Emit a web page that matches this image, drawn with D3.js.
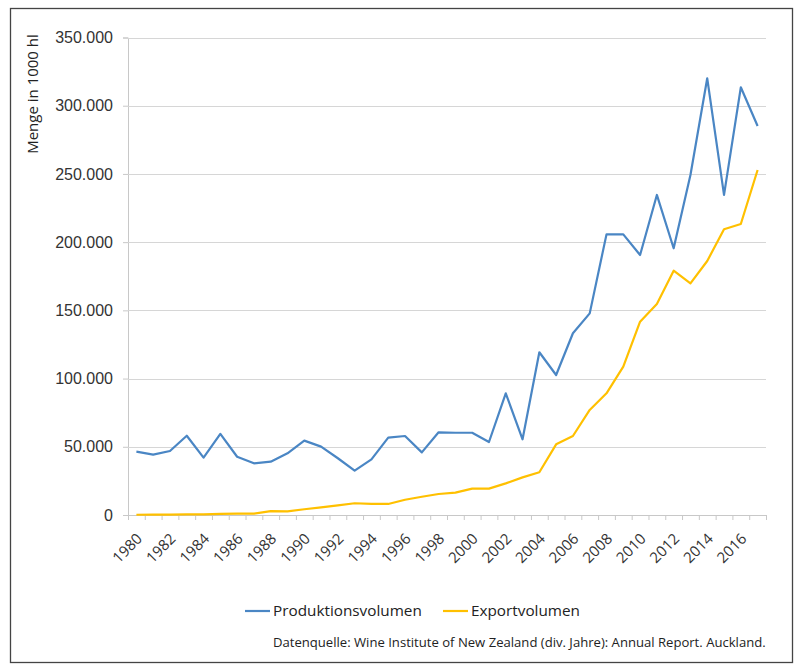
<!DOCTYPE html>
<html>
<head>
<meta charset="utf-8">
<script src="https://cdn.jsdelivr.net/npm/d3@7"></script>
<style>
  html, body { margin: 0; padding: 0; background: #fff; }
  svg { display: block; font-family: "Open Sans", sans-serif; }
</style>
</head>
<body>
<svg id="chart" width="801" height="666"></svg>
<script>
// Wine New Zealand: production vs export volume, 1980–2017 (values in 1000 hl as printed)
const years = d3.range(1980, 2018);
const produktion = [
  46400, 44200, 46900, 58100, 42000, 59400, 42700, 37900, 39100, 45200,
  54500, 50100, 41600, 32500, 40800, 56700, 57900, 45900, 60600, 60300,
  60300, 53500, 89200, 55500, 119300, 102600, 133200, 147800, 205700, 205700,
  190600, 234600, 195500, 249200, 320100, 234600, 313500, 285100
];
const export_ = [
  200, 300, 300, 400, 500, 800, 1000, 1000, 2900, 2700,
  4200, 5600, 7100, 8600, 8100, 8100, 11200, 13400, 15400, 16400,
  19300, 19300, 23200, 27600, 31300, 51800, 57900, 77000, 89200, 108700,
  141700, 154700, 179100, 169800, 186200, 209400, 213300, 252900
];
const yTicks = [0, 50000, 100000, 150000, 200000, 250000, 300000, 350000];
const labelYears = years.filter((y) => (y - 1980) % 2 === 0);

const series = [
  { name: "Produktionsvolumen", values: produktion, color: "#4a86c4" },
  { name: "Exportvolumen", values: export_, color: "#ffc000" },
];

const de = d3.formatLocale({ decimal: ",", thousands: ".", grouping: [3], currency: ["", " €"] });
const fmt = de.format(",");

const svg = d3.select("#chart");
const plotL = 128, plotR = 766, plotT = 37.5, plotB = 515;

// outer frame
svg.append("rect")
  .attr("x", 10.5).attr("y", 8.5).attr("width", 782).attr("height", 654)
  .attr("fill", "none").attr("stroke", "#444").attr("stroke-width", 1.3);

const x = d3.scaleBand().domain(years).range([plotL, plotR]).paddingInner(0).paddingOuter(0);
const xEdge = d3.scaleLinear().domain([0, years.length]).range([plotL, plotR]);
const y = d3.scaleLinear().domain([0, 350000]).range([plotB, plotT]);

// gridlines + y axis labels
const yAxis = d3.axisLeft(y).tickValues(yTicks).tickFormat(fmt).tickSize(5).tickPadding(10);
const gy = svg.append("g").attr("transform", `translate(${plotL},0)`).call(yAxis);
gy.select(".domain").attr("stroke", "#c8c8c8");
gy.selectAll(".tick line").attr("stroke", "#c8c8c8");
gy.selectAll(".tick text").attr("fill", "#333").style("font-size", "16px");

svg.append("g")
  .selectAll("line")
  .data(yTicks.filter((d) => d > 0))
  .join("line")
  .attr("x1", plotL).attr("x2", plotR)
  .attr("y1", (d) => Math.round(y(d)) + 0.5).attr("y2", (d) => Math.round(y(d)) + 0.5)
  .attr("stroke", "#d6d6d6").attr("stroke-width", 1.2);

// x axis: ticks between categories
const xAxis = d3.axisBottom(xEdge).tickValues(d3.range(years.length + 1)).tickFormat("").tickSize(5);
const gx = svg.append("g").attr("transform", `translate(0,${plotB})`).call(xAxis);
gx.select(".domain").attr("stroke", "#c8c8c8");
gx.selectAll(".tick line").attr("stroke", "#c8c8c8");

svg.append("g")
  .selectAll("text")
  .data(labelYears)
  .join("text")
  .attr("transform", (d) => `translate(${x(d) + x.bandwidth() / 2 + 3},${plotB + 21}) rotate(-45)`)
  .attr("text-anchor", "end")
  .attr("dy", "0.35em")
  .attr("fill", "#333")
  .style("font-size", "15px")
  .text((d) => d);

// y axis title
svg.append("text")
  .attr("transform", "translate(38,94) rotate(-90)")
  .attr("text-anchor", "middle")
  .attr("fill", "#222")
  .style("font-size", "15px")
  .text("Menge in 1000 hl");

// lines
const line = d3.line()
  .x((d, i) => x(years[i]) + x.bandwidth() / 2)
  .y((d) => y(d));

svg.append("g")
  .selectAll("path")
  .data(series)
  .join("path")
  .attr("d", (s) => line(s.values))
  .attr("fill", "none")
  .attr("stroke", (s) => s.color)
  .attr("stroke-width", 2.2)
  .attr("stroke-linejoin", "round");

// legend
const legendX = [245, 443];
const lg = svg.append("g")
  .selectAll("g")
  .data(series)
  .join("g")
  .attr("transform", (s, i) => `translate(${legendX[i]},611)`);
lg.append("line").attr("x1", 0).attr("x2", 25)
  .attr("stroke", (s) => s.color).attr("stroke-width", 2.2);
lg.append("text").attr("x", 28).attr("dy", "0.35em")
  .attr("fill", "#222").style("font-size", "15.3px")
  .text((s) => s.name);

// source note
svg.append("text")
  .attr("x", 273).attr("y", 647)
  .attr("fill", "#222").style("font-size", "13.1px")
  .text("Datenquelle: Wine Institute of New Zealand (div. Jahre): Annual Report. Auckland.");
</script>
</body>
</html>
